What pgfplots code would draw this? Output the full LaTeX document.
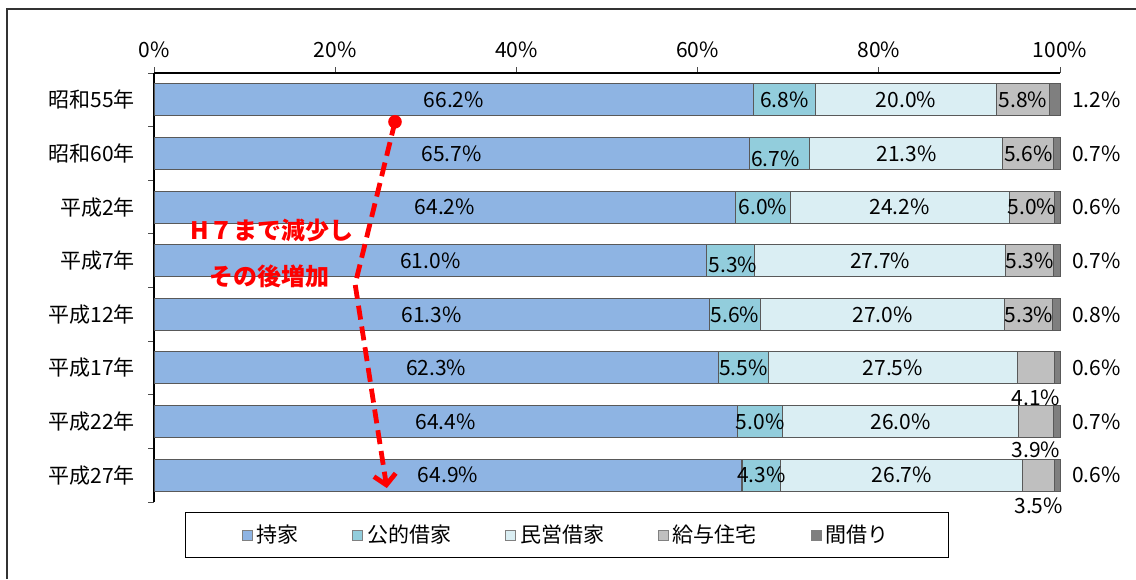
\documentclass[border=0pt]{standalone}
\usepackage{fontspec}
\setmainfont{Noto Sans CJK JP}
\usepackage{pgfplots}
\pgfplotsset{compat=1.18}
\usetikzlibrary{arrows.meta}

\definecolor{mochi}{HTML}{8EB4E3}
\definecolor{koteki}{HTML}{92CDDC}
\definecolor{minei}{HTML}{DAEEF3}
\definecolor{kyuyo}{HTML}{BFBFBF}
\definecolor{magari}{HTML}{7F7F7F}

\begin{document}
\begin{tikzpicture}[font=\fontsize{10.5}{12}\selectfont]
  \useasboundingbox (0,0) rectangle (568pt,289.5pt);
  \draw[black!80, line width=0.8pt] (3.5pt,0pt) -- (3.5pt,285pt) -- (568pt,285pt);
  \begin{axis}[
      at={(77pt,38.5pt)}, anchor=south west,
      scale only axis, width=453pt, height=214.5pt,
      xbar stacked, bar width=16pt,
      xmin=0, xmax=100, ymin=-0.5, ymax=7.5,
      enlargelimits=false, clip=false,
      axis x line*=top, axis y line*=left,
      axis line style={black, line width=0.7pt},
      tick align=outside, major tick length=3pt,
      tick style={black!70, line width=0.5pt},
      xtick={0,20,...,100},
      xticklabels={0\%,20\%,40\%,60\%,80\%,100\%},
      xticklabel style={yshift=1pt},
      ytick={-0.5,0.5,...,7.5},
      yticklabels={},
      extra y ticks={0,...,7},
      extra y tick labels={平成27年,平成22年,平成17年,平成12年,平成7年,平成2年,昭和60年,昭和55年},
      extra y tick style={major tick length=0pt, yticklabel style={anchor=east, xshift=-6pt}},
      legend style={at={(axis description cs:0.456,-0.077)}, anchor=center,
        legend columns=5, draw=black, line width=0.8pt,
        inner xsep=28pt, inner ysep=4pt,
        /tikz/every even column/.append style={column sep=25pt}},
      legend image code/.code={\draw[#1, line width=0.4pt, draw=gray] (0pt,-2.5pt) rectangle (5pt,2.5pt);},
    ]
    \addplot[fill=mochi, draw=black!65, line width=0.5pt] coordinates {(66.2,7) (65.7,6) (64.2,5) (61.0,4) (61.3,3) (62.3,2) (64.4,1) (64.9,0)};
    \addplot[fill=koteki, draw=black!65, line width=0.5pt] coordinates {(6.8,7) (6.7,6) (6.0,5) (5.3,4) (5.6,3) (5.5,2) (5.0,1) (4.3,0)};
    \addplot[fill=minei, draw=black!65, line width=0.5pt] coordinates {(20.0,7) (21.3,6) (24.2,5) (27.7,4) (27.0,3) (27.5,2) (26.0,1) (26.7,0)};
    \addplot[fill=kyuyo, draw=black!65, line width=0.5pt] coordinates {(5.8,7) (5.6,6) (5.0,5) (5.3,4) (5.3,3) (4.1,2) (3.9,1) (3.5,0)};
    \addplot[fill=magari, draw=black!65, line width=0.5pt] coordinates {(1.2,7) (0.7,6) (0.6,5) (0.7,4) (0.8,3) (0.6,2) (0.7,1) (0.6,0)};
    \legend{持家,公的借家,民営借家,給与住宅,間借り}
  \end{axis}

  % labels and annotation on top of the bars, in the axis' units (x in %, y in rows)
  \begin{scope}[shift={(77pt,51.90625pt)}, x=4.53pt, y=26.8125pt]
    \node at (33.1,7) {66.2\%};  \node at (69.6,7) {6.8\%};
    \node at (83.0,7) {20.0\%};  \node at (95.9,7) {5.8\%};
    \node at (104,7) {1.2\%};
    \node at (32.85,6) {65.7\%}; \node at (68.6,5.9) {6.7\%};
    \node at (83.05,6) {21.3\%}; \node at (96.5,6) {5.6\%};
    \node at (104,6) {0.7\%};
    \node at (32.1,5) {64.2\%};  \node at (67.2,5) {6.0\%};
    \node at (82.3,5) {24.2\%};  \node at (96.9,5) {5.0\%};
    \node at (104,5) {0.6\%};
    \node at (30.5,4) {61.0\%};  \node at (63.9,3.92) {5.3\%};
    \node at (80.15,4) {27.7\%}; \node at (96.65,4) {5.3\%};
    \node at (104,4) {0.7\%};
    \node at (30.65,3) {61.3\%}; \node at (64.1,3) {5.6\%};
    \node at (80.4,3) {27.0\%};  \node at (96.55,3) {5.3\%};
    \node at (104,3) {0.8\%};
    \node at (31.15,2) {62.3\%}; \node at (65.05,2) {5.5\%};
    \node at (81.55,2) {27.5\%}; \node at (97.35,1.44) {4.1\%};
    \node at (104,2) {0.6\%};
    \node at (32.2,1) {64.4\%};  \node at (66.9,1) {5.0\%};
    \node at (82.4,1) {26.0\%};  \node at (97.35,0.48) {3.9\%};
    \node at (104,1) {0.7\%};
    \node at (32.45,0) {64.9\%}; \node at (67.05,0) {4.3\%};
    \node at (82.55,0) {26.7\%}; \node at (97.65,-0.58) {3.5\%};
    \node at (104,0) {0.6\%};

    \fill[red] (26.6,6.59) circle (3.4pt);
    \draw[red, line width=2.4pt, dash pattern=on 7pt off 3.5pt, -{Straight Barb[length=5pt,width=11pt]}]
      (26.6,6.59) -- (22.2,3.56) -- (25.7,-0.24);
    \node[red, font=\bfseries\fontsize{12}{14}\selectfont] at (13.0,4.57) {H７まで減少し};
    \node[red, font=\bfseries\fontsize{12}{14}\selectfont] at (12.7,3.71) {その後増加};
  \end{scope}
\end{tikzpicture}
\end{document}
